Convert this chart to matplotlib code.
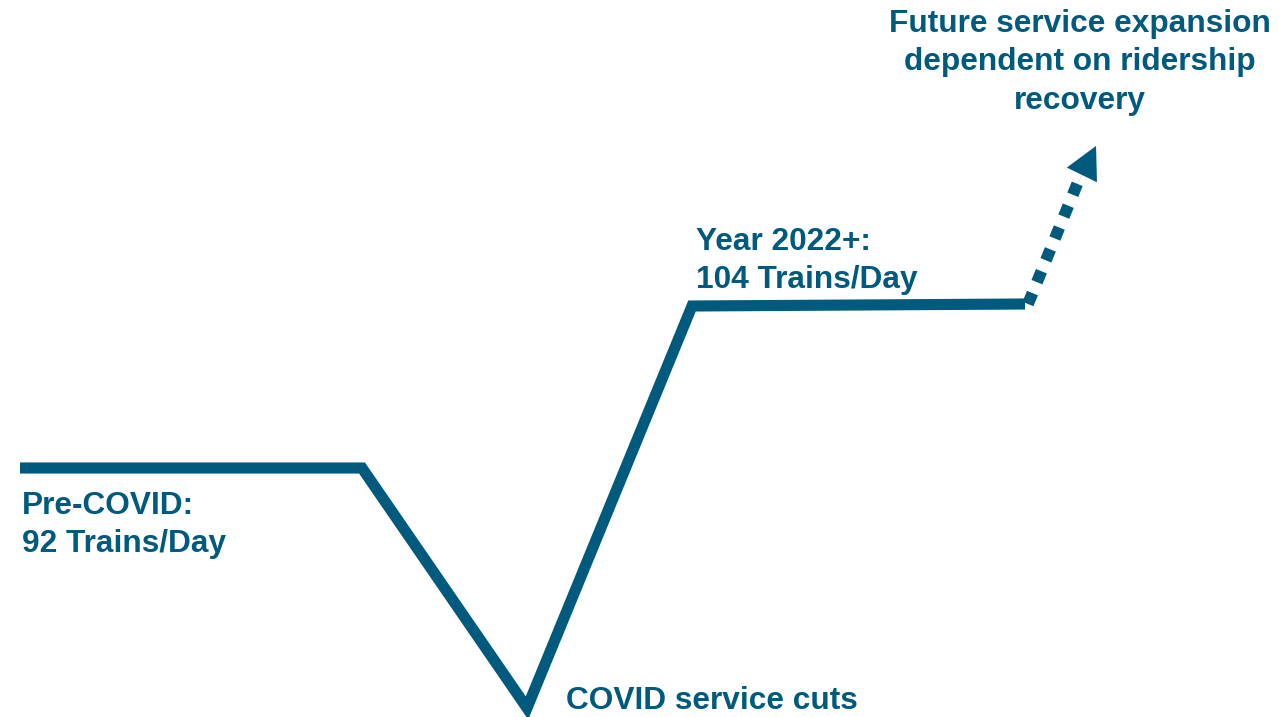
import matplotlib.pyplot as plt

# Service level path (diagram units: x across, y down as in the slide)
path_x = [20, 362, 527, 692, 1025]
path_y = [468, 468, 708, 306, 304]

# dotted projection and arrow
proj_x = [1028, 1078]
proj_y = [304, 182]
arrow_tip = (1096, 146)

labels = ["Pre-COVID:\n92 Trains/Day", "COVID service cuts",
          "Year 2022+:\n104 Trains/Day",
          "Future service expansion\ndependent on ridership\nrecovery"]

color = "#005a7d"

fig = plt.figure(figsize=(12.79, 7.17), dpi=100)
ax = fig.add_axes([0, 0, 1, 1])
ax.set_xlim(0, 1279)
ax.set_ylim(717, 0)
ax.axis('off')

ax.plot(path_x, path_y, color=color, linewidth=8, solid_joinstyle='miter',
        solid_capstyle='butt')

ax.plot(proj_x, proj_y, color=color, linewidth=8.5, linestyle=(0, (1.0, 1.0)),
        dash_capstyle='butt')
ax.annotate('', xy=arrow_tip, xytext=(proj_x[1] - 1, proj_y[1] + 3),
            arrowprops=dict(arrowstyle='-|>,head_length=2.3,head_width=1.2',
                            color=color, linewidth=0.1, shrinkA=0, shrinkB=0))

fs = 22.8
font = dict(color=color, fontsize=fs, fontweight='bold',
            family=['Liberation Sans', 'DejaVu Sans'], linespacing=1.36)
ax.text(22, 491, labels[0], va='top', ha='left', **font)
ax.text(566, 686, labels[1], va='top', ha='left', **font)
ax.text(696, 227, labels[2], va='top', ha='left', **font)
ax.text(1080, 9, labels[3], va='top', ha='center', **font)

fig.savefig('out.png', dpi=100)
